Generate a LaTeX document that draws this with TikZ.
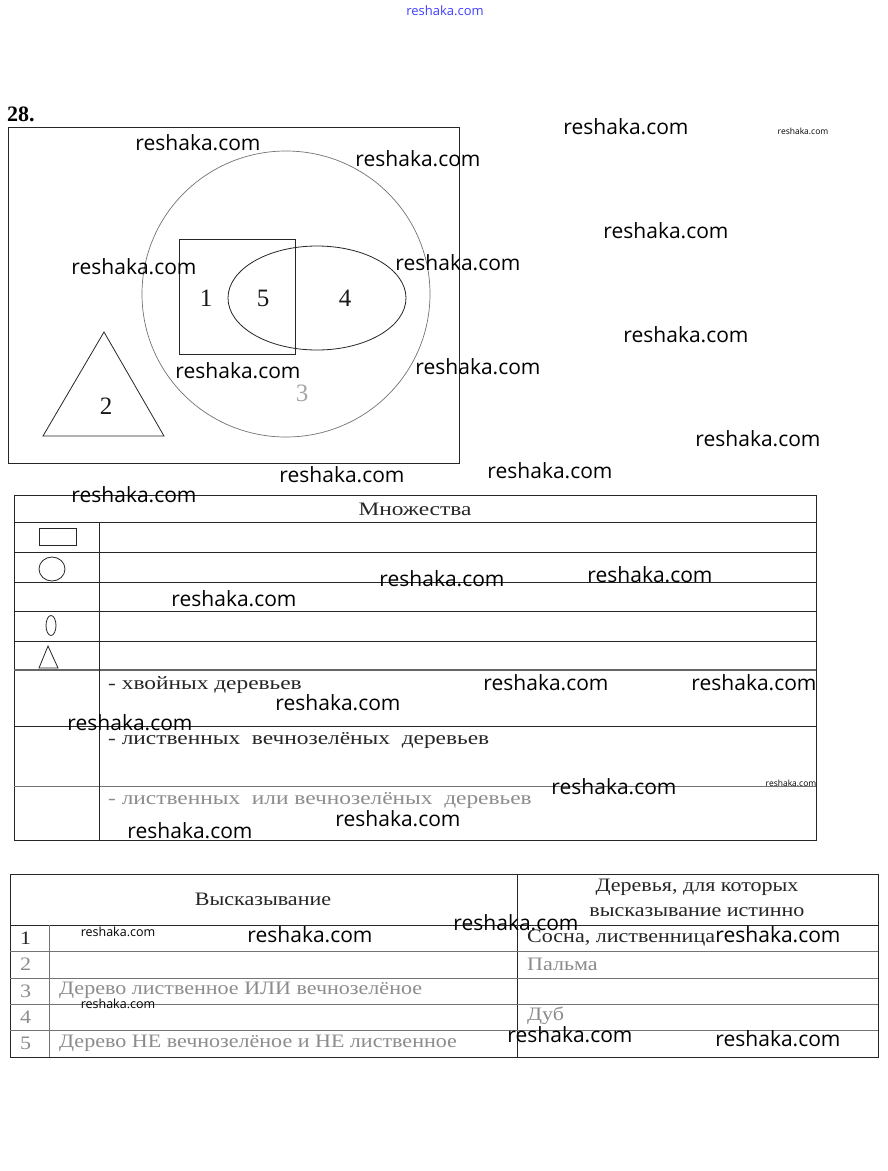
\documentclass[tikz,border=0pt]{standalone}
\usepackage{fontspec}
\setmainfont{Liberation Serif}
\newfontfamily\wideA[FakeStretch=1.23]{Liberation Serif}
\newfontfamily\wideB[FakeStretch=1.16]{Liberation Serif}
\newfontfamily\wmfont{Open Sans}
\begin{document}
\begin{tikzpicture}[x=1pt,y=-1pt,
  wmark/.style={font=\wmfont\fontsize{21}{21}\selectfont, inner sep=0pt, text=black},
  wsmall/.style={font=\wmfont\fontsize{12.5}{12.5}\selectfont, inner sep=0pt, text=black},
  wtiny/.style={font=\wmfont\fontsize{8.5}{8.5}\selectfont, inner sep=0pt, text=black},
  txt/.style={font=\wideA\fontsize{19}{19}\selectfont, inner sep=0pt, text=black!85},
  faint/.style={font=\wideA\fontsize{19}{19}\selectfont, inner sep=0pt, text=black!45},
  txtb/.style={font=\wideB\fontsize{19}{19}\selectfont, inner sep=0pt, text=black!85},
  faintb/.style={font=\wideB\fontsize{19}{19}\selectfont, inner sep=0pt, text=black!45},
  num/.style={font=\fontsize{25}{25}\selectfont, inner sep=0pt, text=black!90},
  line/.style={draw=black!85, line width=0.8pt},
  lightline/.style={draw=black!55, line width=0.7pt}
]
\useasboundingbox (0,0) rectangle (887,1171);
\fill[white] (0,0) rectangle (887,1171);

% header
\node[inner sep=0pt, text=blue!75, font=\wmfont\fontsize{13}{13}\selectfont] (top) at (445,11) {reshaka.com};
\node[inner sep=0pt, font=\bfseries\fontsize{22}{22}\selectfont, anchor=west] (n28) at (7,114) {28.};

% Venn diagram
\draw[line] (8,127) rectangle (459,463);
\draw[lightline] (286,294) ellipse [x radius=144pt, y radius=143pt];
\draw[line] (179,239) rectangle (295,354);
\draw[line] (317,298) ellipse [x radius=89pt, y radius=52pt];
\draw[line] (104,332) -- (43,436) -- (164,436) -- cycle;
\node[num] (l1) at (206,298) {1};
\node[num] (l5) at (263,298) {5};
\node[num] (l4) at (345,298) {4};
\node[num, text=black!35] (l3) at (302,393) {3};
\node[num] (l2) at (106,406) {2};

% Table 1
\draw[line] (14,495) rectangle (816,840);
\draw[line] (14,522) -- (816,522);
\draw[line] (14,552) -- (816,552);
\draw[line] (14,582) -- (816,582);
\draw[line] (14,611) -- (816,611);
\draw[line] (14,641) -- (816,641);
\draw[draw=black!60, line width=2.5pt] (14,670) -- (816,670);
\draw[line] (14,726) -- (816,726);
\draw[lightline] (14,786) -- (816,786);
\draw[line] (99,522) -- (99,840);
\node[txt] (mn) at (415,509) {Множества};
\draw[line] (39,528) rectangle (76,545);
\draw[line] (52,569) ellipse [x radius=13pt, y radius=12pt];
\draw[line] (51,625.5) ellipse [x radius=5pt, y radius=10pt];
\draw[line] (48,646) -- (39,668) -- (58,668) -- cycle;
\node[txt, anchor=west] (r6) at (108,685) {- хвойных деревьев};
\node[txt, anchor=west] (r7) at (108,741) {- лиственных\ \ вечнозелёных\ \ деревьев};
\node[faint, anchor=west] (r8) at (108,801) {- лиственных\ \ или вечнозелёных\ \ деревьев};

% Table 2
\draw[line] (10,874) rectangle (878,1057);
\draw[line] (517,874) -- (517,1057);
\draw[line] (10,925) -- (878,925);
\draw[lightline] (10,951) -- (878,951);
\draw[lightline] (10,978) -- (878,978);
\draw[lightline] (10,1004) -- (878,1004);
\draw[lightline] (10,1030) -- (878,1030);
\draw[lightline] (49,925) -- (49,1057);
\node[txtb] (hv) at (263,899) {Высказывание};
\node[txtb] (hd1) at (697,887) {Деревья, для которых};
\node[txtb] (hd2) at (697,912) {высказывание истинно};
\node[txtb, anchor=west] (k1) at (20,938) {1};
\node[faintb, anchor=west] (k2) at (20,964) {2};
\node[faintb, anchor=west] (k3) at (20,991) {3};
\node[faintb, anchor=west] (k4) at (20,1017) {4};
\node[faintb, anchor=west] (k5) at (20,1043) {5};
\node[txtb, anchor=west] (a1) at (527,938) {Сосна, лиственница};
\node[faintb, anchor=west] (a2) at (527,964) {Пальма};
\node[faintb, anchor=west] (s3) at (59,990) {Дерево лиственное ИЛИ вечнозелёное};
\node[faintb, anchor=west] (a4) at (527,1016) {Дуб};
\node[faintb, anchor=west] (s5) at (59,1043) {Дерево НЕ вечнозелёное и НЕ лиственное};

% watermarks
\node[wmark] (w1) at (626,127) {reshaka.com};
\node[wtiny] (w2) at (803,131) {reshaka.com};
\node[wmark] (w3) at (198,143) {reshaka.com};
\node[wmark] (w4) at (418,159) {reshaka.com};
\node[wmark] (w5) at (666,231) {reshaka.com};
\node[wmark] (w6) at (134,267) {reshaka.com};
\node[wmark] (w7) at (458,263) {reshaka.com};
\node[wmark] (w8) at (686,335) {reshaka.com};
\node[wmark] (w9) at (238,371) {reshaka.com};
\node[wmark] (w10) at (478,367) {reshaka.com};
\node[wmark] (w11) at (758,439) {reshaka.com};
\node[wmark] (w12) at (342,475) {reshaka.com};
\node[wmark] (w13) at (550,471) {reshaka.com};
\node[wmark] (w14) at (134,495) {reshaka.com};
\node[wmark] (w15) at (442,579) {reshaka.com};
\node[wmark] (w16) at (650,575) {reshaka.com};
\node[wmark] (w17) at (234,599) {reshaka.com};
\node[wmark] (w18) at (546,683) {reshaka.com};
\node[wmark] (w19) at (754,683) {reshaka.com};
\node[wmark] (w20) at (338,703) {reshaka.com};
\node[wmark] (w21) at (130,723) {reshaka.com};
\node[wmark] (w22) at (614,787) {reshaka.com};
\node[wtiny] (w23) at (791,783) {reshaka.com};
\node[wmark] (w24) at (190,831) {reshaka.com};
\node[wmark] (w25) at (398,819) {reshaka.com};
\node[wmark] (w26) at (516,923) {reshaka.com};
\node[wsmall] (w27) at (118,932) {reshaka.com};
\node[wmark] (w28) at (310,935) {reshaka.com};
\node[wmark] (w29) at (778,935) {reshaka.com};
\node[wsmall] (w30) at (118,1004) {reshaka.com};
\node[wmark] (w31) at (570,1035) {reshaka.com};
\node[wmark] (w32) at (778,1039) {reshaka.com};
\end{tikzpicture}
\end{document}
